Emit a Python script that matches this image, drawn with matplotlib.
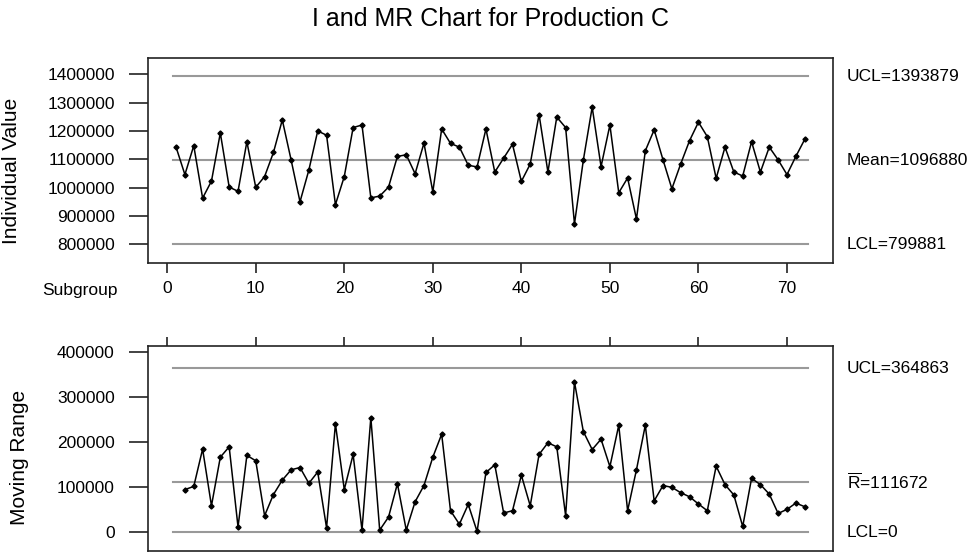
import numpy as np
import matplotlib
matplotlib.use("Agg")
import matplotlib.pyplot as plt
import matplotlib.transforms as mtransforms

plt.rcParams['font.family'] = ['Liberation Sans', 'DejaVu Sans']
plt.rcParams['mathtext.fontset'] = 'custom'
plt.rcParams['mathtext.rm'] = 'Liberation Sans'

# individual values, subgroups 1..72
individual = [1143000, 1046000, 1148000, 963000, 1023000, 1193000, 1002000, 987000,
              1162000, 1001000, 1039000, 1124000, 1239000, 1097000, 950000, 1062000,
              1200000, 1185000, 940000, 1039000, 1212000, 1221000, 964000, 970000,
              1002000, 1110000, 1116000, 1049000, 1157000, 985000, 1207000, 1156000,
              1143000, 1079000, 1073000, 1207000, 1055000, 1104000, 1153000, 1022000,
              1083000, 1258000, 1055000, 1249000, 1212000, 872000, 1097000, 1284000,
              1074000, 1221000, 982000, 1034000, 889000, 1130000, 1204000, 1098000,
              996000, 1084000, 1166000, 1231000, 1180000, 1033000, 1143000, 1055000,
              1041000, 1162000, 1055000, 1143000, 1098000, 1046000, 1110000, 1170000]

# moving ranges, subgroups 2..72
moving_range = [95000, 102000, 185000, 59000, 167000, 190000, 12000, 171000, 159000, 37000,
                84000, 116000, 139000, 144000, 109000, 134000, 10000, 241000, 95000, 173000,
                5000, 255000, 5000, 34000, 108000, 5000, 68000, 104000, 167000, 218000,
                48000, 18000, 62000, 2000, 133000, 150000, 43000, 48000, 127000, 59000,
                173000, 199000, 190000, 37000, 334000, 224000, 184000, 207000, 146000, 238000,
                48000, 139000, 238000, 70000, 104000, 100000, 88000, 79000, 63000, 48000,
                147000, 106000, 83000, 13000, 120000, 106000, 85000, 42000, 51000, 65000, 57000]

i_limits = [1393879, 1096880, 799881]
i_limit_labels = ["UCL=1393879", "Mean=1096880", "LCL=799881"]
mr_limits = [364863, 111672, 0]
mr_limit_labels = ["UCL=364863", r"$\overline{\mathrm{R}}$=111672", "LCL=0"]

i_ticks = [800000, 900000, 1000000, 1100000, 1200000, 1300000, 1400000]
mr_ticks = [0, 100000, 200000, 300000, 400000]
x_ticks = [0, 10, 20, 30, 40, 50, 60, 70]

fig = plt.figure(figsize=(9.71, 5.54), dpi=100)
ax1 = fig.add_axes([0.1524, 0.5258, 0.7055, 0.369])
ax2 = fig.add_axes([0.1524, 0.0054, 0.7055, 0.3706])

x_i = np.arange(1, len(individual) + 1)
x_mr = np.arange(2, len(individual) + 1)

line_col = '#999999'
for ax, xs, ys, lims, labs in [(ax1, x_i, individual, i_limits, i_limit_labels),
                               (ax2, x_mr, moving_range, mr_limits, mr_limit_labels)]:
    for v, lab in zip(lims, labs):
        ax.plot([0.6, 72.4], [v, v], color=line_col, lw=1.5, zorder=1)
        trans = mtransforms.blended_transform_factory(ax.transAxes, ax.transData)
        ax.text(1.02, v, lab, transform=trans, ha='left', va='center', fontsize=12.5)
    ax.plot(xs, ys, color='black', lw=1.1, marker='D', markersize=2.6, zorder=3)
    ax.set_xlim(-2.17, 75.2)
    for sp in ax.spines.values():
        sp.set_linewidth(1.2)
        sp.set_color('#222222')
    ax.tick_params(axis='y', length=14, width=1.2, pad=10, labelsize=12.5, color='#222222')
    ax.ticklabel_format(axis='y', style='plain', useOffset=False)

ax1.set_ylim(735000, 1456500)
ax1.set_yticks(i_ticks)
ax1.set_xticks(x_ticks)
ax1.tick_params(axis='x', length=7, width=1.2, pad=6, labelsize=12.5, color='#222222')
ax1.set_ylabel("Individual Value", fontsize=15)
ax1.yaxis.set_label_coords(-0.186, 0.45)

ax2.set_ylim(-41500, 414700)
ax2.set_yticks(mr_ticks)
ax2.set_xticks(x_ticks)
ax2.tick_params(axis='x', bottom=False, labelbottom=False, top=True, length=6.5,
                width=1.2, color='#222222')
ax2.set_ylabel("Moving Range", fontsize=15)
ax2.yaxis.set_label_coords(-0.174, 0.455)

fig.text(118 / 971, 1 - 290 / 554, "Subgroup", ha='right', va='center', fontsize=12.5)
fig.text(0.505, 0.966, "I and MR Chart for Production C", ha='center', va='center', fontsize=18)

fig.savefig("out.png", dpi=100)
